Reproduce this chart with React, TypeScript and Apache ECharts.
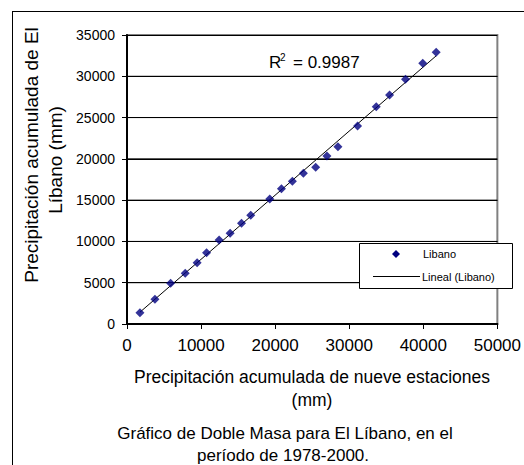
import React, { useEffect, useRef } from "react";
import * as echarts from "echarts";

// Cumulative precipitation, nine stations (mm) – x
const nineStations = [1750, 3770, 5890, 7860, 9470, 10740, 12440, 13920, 15460, 16710, 19270, 20850, 22330, 23810, 25470, 26990, 28480, 31130, 33650, 35450, 37600, 39930, 41740];
// Cumulative precipitation, El Líbano (mm) – y
const libano = [1370, 2990, 4930, 6140, 7420, 8630, 10170, 10980, 12200, 13160, 15140, 16390, 17280, 18250, 18980, 20350, 21470, 23980, 26320, 27730, 29630, 31570, 32900];
// Horizontal gridline values and x-axis range
const yGridValues = [5000, 10000, 15000, 20000, 25000, 30000];
const xRange = [0, 50000];

const seriesName = "Libano";
const trendName = "Lineal (Libano)";
const r2Label = "= 0.9987";
const xTitle = ["Precipitación acumulada de nueve estaciones", "(mm)"];
const yTitle = ["Precipitación acumulada de El", "Líbano (mm)"];
const caption = ["Gráfico de Doble Masa para El Líbano, en el", "período de 1978-2000."];

const FONT = "'Liberation Sans', Arial, sans-serif";

function linearFit(xs: number[], ys: number[]) {
  const n = xs.length;
  let sx = 0, sy = 0, sxx = 0, sxy = 0;
  for (let i = 0; i < n; i++) {
    sx += xs[i]; sy += ys[i]; sxx += xs[i] * xs[i]; sxy += xs[i] * ys[i];
  }
  const b = (n * sxy - sx * sy) / (n * sxx - sx * sx);
  const a = (sy - b * sx) / n;
  return { a, b };
}

export default function App() {
  const ref = useRef<HTMLDivElement>(null);
  useEffect(() => {
    if (!ref.current) return;
    const chart = echarts.init(ref.current, undefined, { renderer: "svg" });
    const pts = nineStations.map((x, i) => [x, libano[i]]);
    const { a, b } = linearFit(nineStations, libano);
    const xMin = Math.min(...nineStations);
    const xMax = Math.max(...nineStations);
    const trend = [[xMin, a + b * xMin], [xMax, a + b * xMax]];

    const gridSeries = yGridValues.map((v) => ({
      name: "grid" + v, type: "line", silent: true, showSymbol: false, symbol: "none",
      data: [[xRange[0], v], [xRange[1], v]],
      lineStyle: { color: "#000", width: 1 }, z: 1, tooltip: { show: false },
    }));

    const txt = (x: number, y: number, text: string, fontSize: number, extra: any = {}) => ({
      type: "text", x, y, z: 100,
      style: { text, fontSize, fontFamily: FONT, fill: "#000", textAlign: "center", textVerticalAlign: "middle", ...extra },
    });

    chart.setOption({
      animation: false,
      backgroundColor: "#ffffff",
      textStyle: { fontFamily: FONT },
      grid: {
        left: 127, right: 26, top: 35, bottom: 141,
        show: true, borderColor: "#808080", borderWidth: 2,
      },
      xAxis: {
        type: "value", min: xRange[0], max: xRange[1], interval: 10000,
        axisLine: { show: true, onZero: false, lineStyle: { color: "#000", width: 2 } },
        axisTick: { show: true, inside: false, length: 5, lineStyle: { color: "#000", width: 1 } },
        axisLabel: { color: "#000", fontSize: 17, margin: 13, fontFamily: FONT, formatter: (v: number) => String(v) },
        splitLine: { show: false },
      },
      yAxis: {
        type: "value", min: 0, max: 35000, interval: 5000,
        axisLine: { show: true, onZero: false, lineStyle: { color: "#000", width: 2 } },
        axisTick: { show: true, inside: false, length: 5, lineStyle: { color: "#000", width: 1 } },
        axisLabel: { color: "#000", fontSize: 14, margin: 12, fontFamily: FONT, formatter: (v: number) => String(v) },
        splitLine: { show: true, lineStyle: { color: "#000", width: 1, type: "solid" } },
      },
      series: [
        ...gridSeries,
        {
          name: trendName, type: "line", data: trend, showSymbol: false, symbol: "none",
          lineStyle: { color: "#000", width: 1 }, itemStyle: { color: "#000" }, z: 2,
        },
        {
          name: seriesName, type: "scatter", data: pts, symbol: "diamond", symbolSize: 9,
          itemStyle: { color: "#000080" }, z: 3,
        },
      ],
      graphic: [
        { type: "line", shape: { x1: 12.5, y1: 11, x2: 12.5, y2: 465 }, style: { stroke: "#000", lineWidth: 1 } },
        { type: "line", shape: { x1: 12, y1: 11.5, x2: 524, y2: 11.5 }, style: { stroke: "#000", lineWidth: 1 } },
        // legend box
        { type: "rect", z: 90, shape: { x: 359.5, y: 243.5, width: 153, height: 45 }, style: { fill: "#fff", stroke: "#000", lineWidth: 1 } },
        { type: "polygon", z: 95, shape: { points: [[396, 250], [400, 254], [396, 258], [392, 254]] }, style: { fill: "#000080" } },
        { type: "line", z: 95, shape: { x1: 373, y1: 276.5, x2: 420, y2: 276.5 }, style: { stroke: "#000", lineWidth: 1 } },
        txt(423, 254, seriesName, 11, { textAlign: "left" }),
        txt(422, 276.5, trendName, 11, { textAlign: "left" }),
        // R²
        txt(269, 62.5, "R", 17, { textAlign: "left" }),
        txt(280, 57, "2", 10, { textAlign: "left" }),
        txt(293, 62.5, r2Label, 17, { textAlign: "left" }),
        // axis titles
        txt(312, 377, xTitle[0], 17.5),
        txt(312, 400, xTitle[1], 17.5),
        { ...txt(31.5, 155, yTitle[0], 19), rotation: Math.PI / 2 },
        { ...txt(55, 160, yTitle[1], 19), rotation: Math.PI / 2 },
        // caption
        txt(285, 433, caption[0], 17),
        txt(283, 455, caption[1], 17),
      ],
    });
    return () => chart.dispose();
  }, []);
  return <div ref={ref} style={{ position: "fixed", left: 0, top: 0, width: 524, height: 465 }} />;
}
